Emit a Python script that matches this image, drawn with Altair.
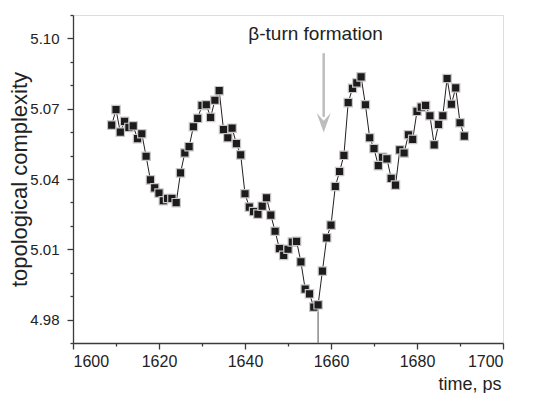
import altair as alt
import pandas as pd

# ---- data ----
time_ps = [1609, 1610, 1611, 1612, 1613, 1614, 1615, 1616, 1617, 1618,
           1619, 1620, 1621, 1622, 1623, 1624, 1625, 1626, 1627, 1628,
           1629, 1630, 1631, 1632, 1633, 1634, 1635, 1636, 1637, 1638,
           1639, 1640, 1641, 1642, 1643, 1644, 1645, 1646, 1647, 1648,
           1649, 1650, 1651, 1652, 1653, 1654, 1655, 1656, 1657, 1658,
           1659, 1660, 1661, 1662, 1663, 1664, 1665, 1666, 1667, 1668,
           1669, 1670, 1671, 1672, 1673, 1674, 1675, 1676, 1677, 1678,
           1679, 1680, 1681, 1682, 1683, 1684, 1685, 1686, 1687, 1688,
           1689, 1690, 1691]
complexity = [5.0630, 5.0696, 5.0600, 5.0646, 5.0620, 5.0627, 5.0572, 5.0593, 5.0497, 5.0396,
              5.0362, 5.0340, 5.0307, 5.0317, 5.0317, 5.0299, 5.0426, 5.0511, 5.0538, 5.0623,
              5.0659, 5.0714, 5.0717, 5.0663, 5.0736, 5.0777, 5.0611, 5.0576, 5.0617, 5.0551,
              5.0503, 5.0337, 5.0280, 5.0261, 5.0250, 5.0284, 5.0320, 5.0246, 5.0177, 5.0103,
              5.0074, 5.0100, 5.0131, 5.0134, 5.0046, 4.9930, 4.9910, 4.9853, 4.9863, 5.0007,
              5.0149, 5.0203, 5.0368, 5.0432, 5.0501, 5.0726, 5.0787, 5.0810, 5.0836, 5.0717,
              5.0576, 5.0530, 5.0457, 5.0493, 5.0486, 5.0403, 5.0374, 5.0524, 5.0511, 5.0589,
              5.0569, 5.0689, 5.0707, 5.0714, 5.0670, 5.0546, 5.0633, 5.0670, 5.0829, 5.0719,
              5.0789, 5.0640, 5.0583]

x_domain = [1600, 1700]
y_domain = [4.97, 5.11]
x_ticks = [1600, 1610, 1620, 1630, 1640, 1650, 1660, 1670, 1680, 1690, 1700]
x_labels = ["1600", "1620", "1640", "1660", "1680", "1700"]
y_major_ticks = [4.98, 5.01, 5.04, 5.07, 5.10]
y_minor_ticks = [4.97, 4.99, 5.00, 5.02, 5.03, 5.05, 5.06, 5.08, 5.09, 5.11]

# annotation
annot_text = ["β-turn formation"]
annot_x = [1656.4]
annot_y = [5.0995]
arrow_x = [1658.3]
arrow_top = [5.0937]
arrow_end = [5.0665]
arrow_head_y = [5.0640]
marker_time = 1657

df = pd.DataFrame({"time": time_ps, "complexity": complexity})
marker_df = pd.DataFrame({
    "time": [marker_time],
    "y": [complexity[time_ps.index(marker_time)]],
    "y2": [y_domain[0]],
})
text_df = pd.DataFrame({"time": annot_x, "t": annot_text, "y": annot_y})
arrow_df = pd.DataFrame({"time": arrow_x, "y": arrow_top, "y2": arrow_end, "yh": arrow_head_y})

FONT = "Liberation Sans"
AX = "#3a3a3a"
TXT = "#222222"

x_major = "indexof([" + ",".join("'%s'" % s for s in x_labels) + "], format(datum.value, 'd')) >= 0"

x_scale = alt.Scale(domain=x_domain, nice=False, zero=False)
y_scale = alt.Scale(domain=y_domain, nice=False, zero=False)

x_axis = alt.Axis(
    values=x_ticks, format="d", labelOverlap=False,
    labelExpr=x_major + " ? datum.label : ''",
    tickSize={"condition": {"test": x_major, "value": 6}, "value": 3},
    grid=False, domainColor=AX, tickColor=AX, domainWidth=1.3, tickWidth=1.3,
    labelFont=FONT, labelFontSize=16, labelColor=TXT, labelPadding=4,
    title="time, ps", titleFont=FONT, titleFontSize=18, titleFontWeight="normal",
    titleColor=TXT, titleX=428, titleY=46, titleAlign="right", titleBaseline="alphabetic",
)
y_axis = alt.Axis(
    values=y_major_ticks, format=".2f", labelOverlap=False, orient="left",
    tickSize=6,
    grid=False, domainColor=AX, tickColor=AX, domainWidth=1.3, tickWidth=1.3,
    labelFont=FONT, labelFontSize=15, labelColor=TXT, labelPadding=8,
    title="topological complexity", titleFont=FONT, titleFontSize=22,
    titleFontWeight="normal", titleColor=TXT, titleAngle=-90,
    titleX=-54, titleY=164, titleAlign="center", titleBaseline="middle",
)
y_axis_minor = alt.Axis(
    values=y_minor_ticks, orient="left", labels=False, domain=False,
    tickSize=3, tickColor=AX, tickWidth=1.3, grid=False, title=None,
)

X = alt.X("time:Q", scale=x_scale, axis=x_axis)
Y = alt.Y("complexity:Q", scale=y_scale, axis=y_axis)
Y_minor = alt.Y("complexity:Q", scale=y_scale, axis=y_axis_minor)

line = alt.Chart(df).mark_line(color="#231f20", strokeWidth=1).encode(x=X, y=Y)

marker = alt.Chart(marker_df).mark_rule(color="#8a8a8a", strokeWidth=1.5).encode(
    x=X,
    y=alt.Y("y:Q", scale=y_scale, axis=None),
    y2="y2:Q",
)

points = alt.Chart(df).mark_square(
    size=70, color="#1e1b1c", opacity=1, stroke="#c8c8c8", strokeWidth=1.2
).encode(x=X, y=Y_minor)

shaft = alt.Chart(arrow_df).mark_rule(color="#bdbdbd", strokeWidth=2.5).encode(
    x=X,
    y=alt.Y("y:Q", scale=y_scale, axis=None),
    y2="y2:Q",
)
head = alt.Chart(arrow_df).mark_point(
    shape="M 0 1.4 L -1 -1.4 L 0 -0.3 L 1 -1.4 Z",
    filled=True, size=196, color="#bdbdbd", opacity=1,
).encode(
    x=X,
    y=alt.Y("yh:Q", scale=y_scale, axis=None),
)
label = alt.Chart(text_df).mark_text(
    font=FONT, fontSize=19, color=TXT, align="center", baseline="alphabetic"
).encode(
    x=X,
    y=alt.Y("y:Q", scale=y_scale, axis=None),
    text="t:N",
)

chart = alt.layer(marker, line, points, shaft, head, label).resolve_axis(
    y="independent"
).properties(
    width=430, height=328,
    autosize=alt.AutoSizeParams(type="none"),
    padding={"left": 65, "top": 7, "right": 33, "bottom": 50},
).configure_view(stroke=None).configure(background="white")

chart.save("out.html", embed_options={"renderer": "svg", "actions": False})
